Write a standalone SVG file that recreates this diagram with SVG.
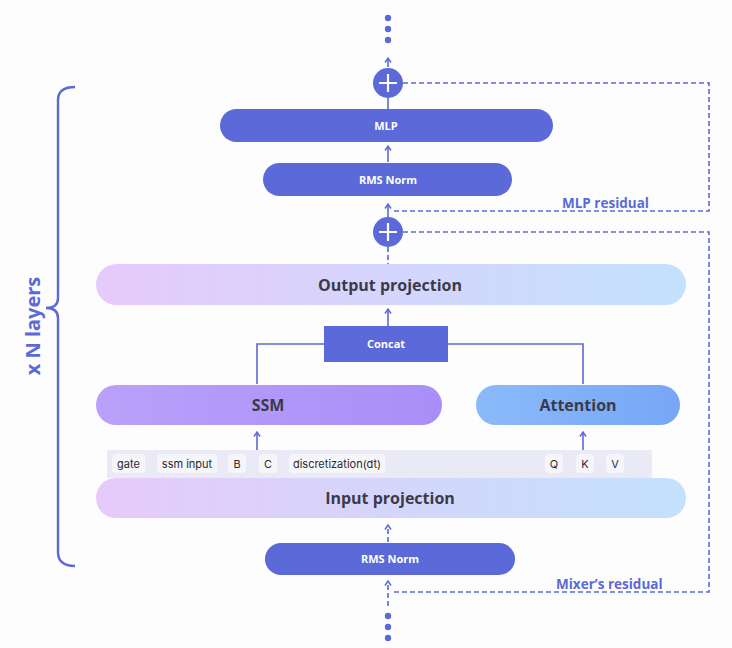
<svg xmlns="http://www.w3.org/2000/svg" width="732" height="648" viewBox="0 0 732 648">
<defs>
<style>
.pill{fill:#5b6ad8}
.wl{font-family:"Open Sans","Noto Sans",sans-serif;font-weight:700;fill:#ffffff;font-size:11px;text-anchor:middle}
.dl{font-family:"Open Sans","Noto Sans",sans-serif;font-weight:700;fill:#3b3a48;font-size:16px;text-anchor:middle}
.bl{font-family:"Open Sans","Noto Sans",sans-serif;font-weight:700;fill:#5b6ad8;font-size:13.5px}
.big{font-family:"Open Sans","Noto Sans",sans-serif;font-weight:700;fill:#5b6ad8;font-size:20px;text-anchor:middle}
.chip{fill:#f6f6fa}
.ct{font-family:Inter,Roboto,"Liberation Sans",sans-serif;fill:#2a2a33;font-size:11px;text-anchor:middle}
.ln{stroke:#5b6ad8;stroke-width:1.6;fill:none}
.br{stroke:#5b6ad8;stroke-width:2.4;fill:none}
.ds{stroke:#5b6ad8;stroke-width:1.6;fill:none;stroke-dasharray:5 3}
.dot{fill:#5b6ad8}
</style>
<linearGradient id="gproj" x1="0" y1="0" x2="1" y2="0">
<stop offset="0" stop-color="#e6cafb"/>
<stop offset="1" stop-color="#c3e1fd"/>
</linearGradient>
<linearGradient id="gssm" x1="0" y1="0" x2="1" y2="0">
<stop offset="0" stop-color="#b9a1fb"/>
<stop offset="1" stop-color="#a98ef8"/>
</linearGradient>
<linearGradient id="gatt" x1="0" y1="0" x2="1" y2="0">
<stop offset="0" stop-color="#8bbafb"/>
<stop offset="1" stop-color="#77a6f7"/>
</linearGradient>
<marker id="ah" viewBox="0 0 8 8" refX="6" refY="4" markerWidth="8" markerHeight="8" markerUnits="userSpaceOnUse" orient="auto">
<path d="M1.5,1 L6,4 L1.5,7" stroke="#5b6ad8" stroke-width="1.5" fill="none"/>
</marker>
</defs>
<rect width="732" height="648" fill="#fdfdfd"/>

<g id="brace">
<path d="M75,87 Q58,87 58,100 L58,298 Q58,308 46,308 Q58,308 58,318 L58,552 Q58,566 75,566" class="br"/>
<text class="big" transform="translate(40,326) rotate(-90)">x N layers</text>
</g>

<g id="connectors">
<line x1="388" y1="67" x2="388" y2="58" class="ln" marker-end="url(#ah)"/>
<line x1="388" y1="109" x2="388" y2="98" class="ln"/>
<line x1="388" y1="162" x2="388" y2="146" class="ln" marker-end="url(#ah)"/>
<line x1="388" y1="217" x2="388" y2="204" class="ln" marker-end="url(#ah)"/>
<path d="M403,83 H709 V211 H391" class="ds"/>
<line x1="388" y1="247" x2="388" y2="264" class="ds"/>
<path d="M403,232 H709 V592 H391" class="ds"/>
<line x1="388" y1="326" x2="388" y2="309" class="ln" marker-end="url(#ah)"/>
<path d="M324,344 H257 V384" class="ln"/>
<path d="M448,344 H583 V384" class="ln"/>
<line x1="257" y1="450" x2="257" y2="432" class="ln" marker-end="url(#ah)"/>
<line x1="583" y1="450" x2="583" y2="432" class="ln" marker-end="url(#ah)"/>
<line x1="388" y1="542" x2="388" y2="525" class="ds" marker-end="url(#ah)"/>
<line x1="388" y1="606" x2="388" y2="581" class="ds" marker-end="url(#ah)"/>
<text class="bl" x="562" y="208">MLP residual</text>
<text class="bl" x="556" y="589">Mixer’s residual</text>
</g>

<g id="dots-top">
<circle class="dot" cx="388" cy="18" r="3.2"/>
<circle class="dot" cx="388" cy="29" r="3.2"/>
<circle class="dot" cx="388" cy="40" r="3.2"/>
</g>

<g id="add-top">
<circle cx="388" cy="83" r="15" class="pill"/>
<path d="M379,83 H397 M388,74 V92" stroke="#ffffff" stroke-width="2.2"/>
</g>

<g id="mlp">
<rect x="220" y="109" width="333" height="33" rx="16.5" class="pill"/>
<text class="wl" x="386" y="130">MLP</text>
</g>

<g id="rms-top">
<rect x="263" y="163" width="249" height="33" rx="16.5" class="pill"/>
<text class="wl" x="388" y="184">RMS Norm</text>
</g>

<g id="add-mid">
<circle cx="388" cy="232" r="15" class="pill"/>
<path d="M379,232 H397 M388,223 V241" stroke="#ffffff" stroke-width="2.2"/>
</g>

<g id="output-projection">
<rect x="96" y="264" width="590" height="41" rx="20.5" fill="url(#gproj)"/>
<text class="dl" x="390" y="291">Output projection</text>
</g>

<g id="concat">
<rect x="324" y="326" width="124" height="36" class="pill"/>
<text class="wl" x="386" y="348">Concat</text>
</g>

<g id="ssm">
<rect x="96" y="385" width="346" height="40" rx="20" fill="url(#gssm)"/>
<text class="dl" x="268" y="411">SSM</text>
</g>

<g id="attention">
<rect x="476" y="385" width="204" height="40" rx="20" fill="url(#gatt)"/>
<text class="dl" x="578" y="411">Attention</text>
</g>

<g id="tokens">
<rect x="107" y="450" width="545" height="28" fill="#e9eaf5"/>
<rect class="chip" x="112" y="454" width="33" height="19" rx="4"/>
<text class="ct" x="128.5" y="468">gate</text>
<rect class="chip" x="157" y="454" width="60" height="19" rx="4"/>
<text class="ct" x="187" y="468">ssm input</text>
<rect class="chip" x="228" y="454" width="18" height="19" rx="4"/>
<text class="ct" x="237" y="468">B</text>
<rect class="chip" x="259" y="454" width="18" height="19" rx="4"/>
<text class="ct" x="268" y="468">C</text>
<rect class="chip" x="289" y="454" width="96" height="19" rx="4"/>
<text class="ct" x="337" y="468">discretization(dt)</text>
<rect class="chip" x="545" y="454" width="18" height="19" rx="4"/>
<text class="ct" x="554" y="468">Q</text>
<rect class="chip" x="576" y="454" width="18" height="19" rx="4"/>
<text class="ct" x="585" y="468">K</text>
<rect class="chip" x="606" y="454" width="18" height="19" rx="4"/>
<text class="ct" x="615" y="468">V</text>
</g>

<g id="input-projection">
<rect x="96" y="478" width="590" height="40" rx="20" fill="url(#gproj)"/>
<text class="dl" x="390" y="504">Input projection</text>
</g>

<g id="rms-bottom">
<rect x="265" y="543" width="250" height="32" rx="16" class="pill"/>
<text class="wl" x="390" y="563">RMS Norm</text>
</g>

<g id="dots-bottom">
<circle class="dot" cx="388" cy="616" r="3.2"/>
<circle class="dot" cx="388" cy="627" r="3.2"/>
<circle class="dot" cx="388" cy="638" r="3.2"/>
</g>
</svg>
